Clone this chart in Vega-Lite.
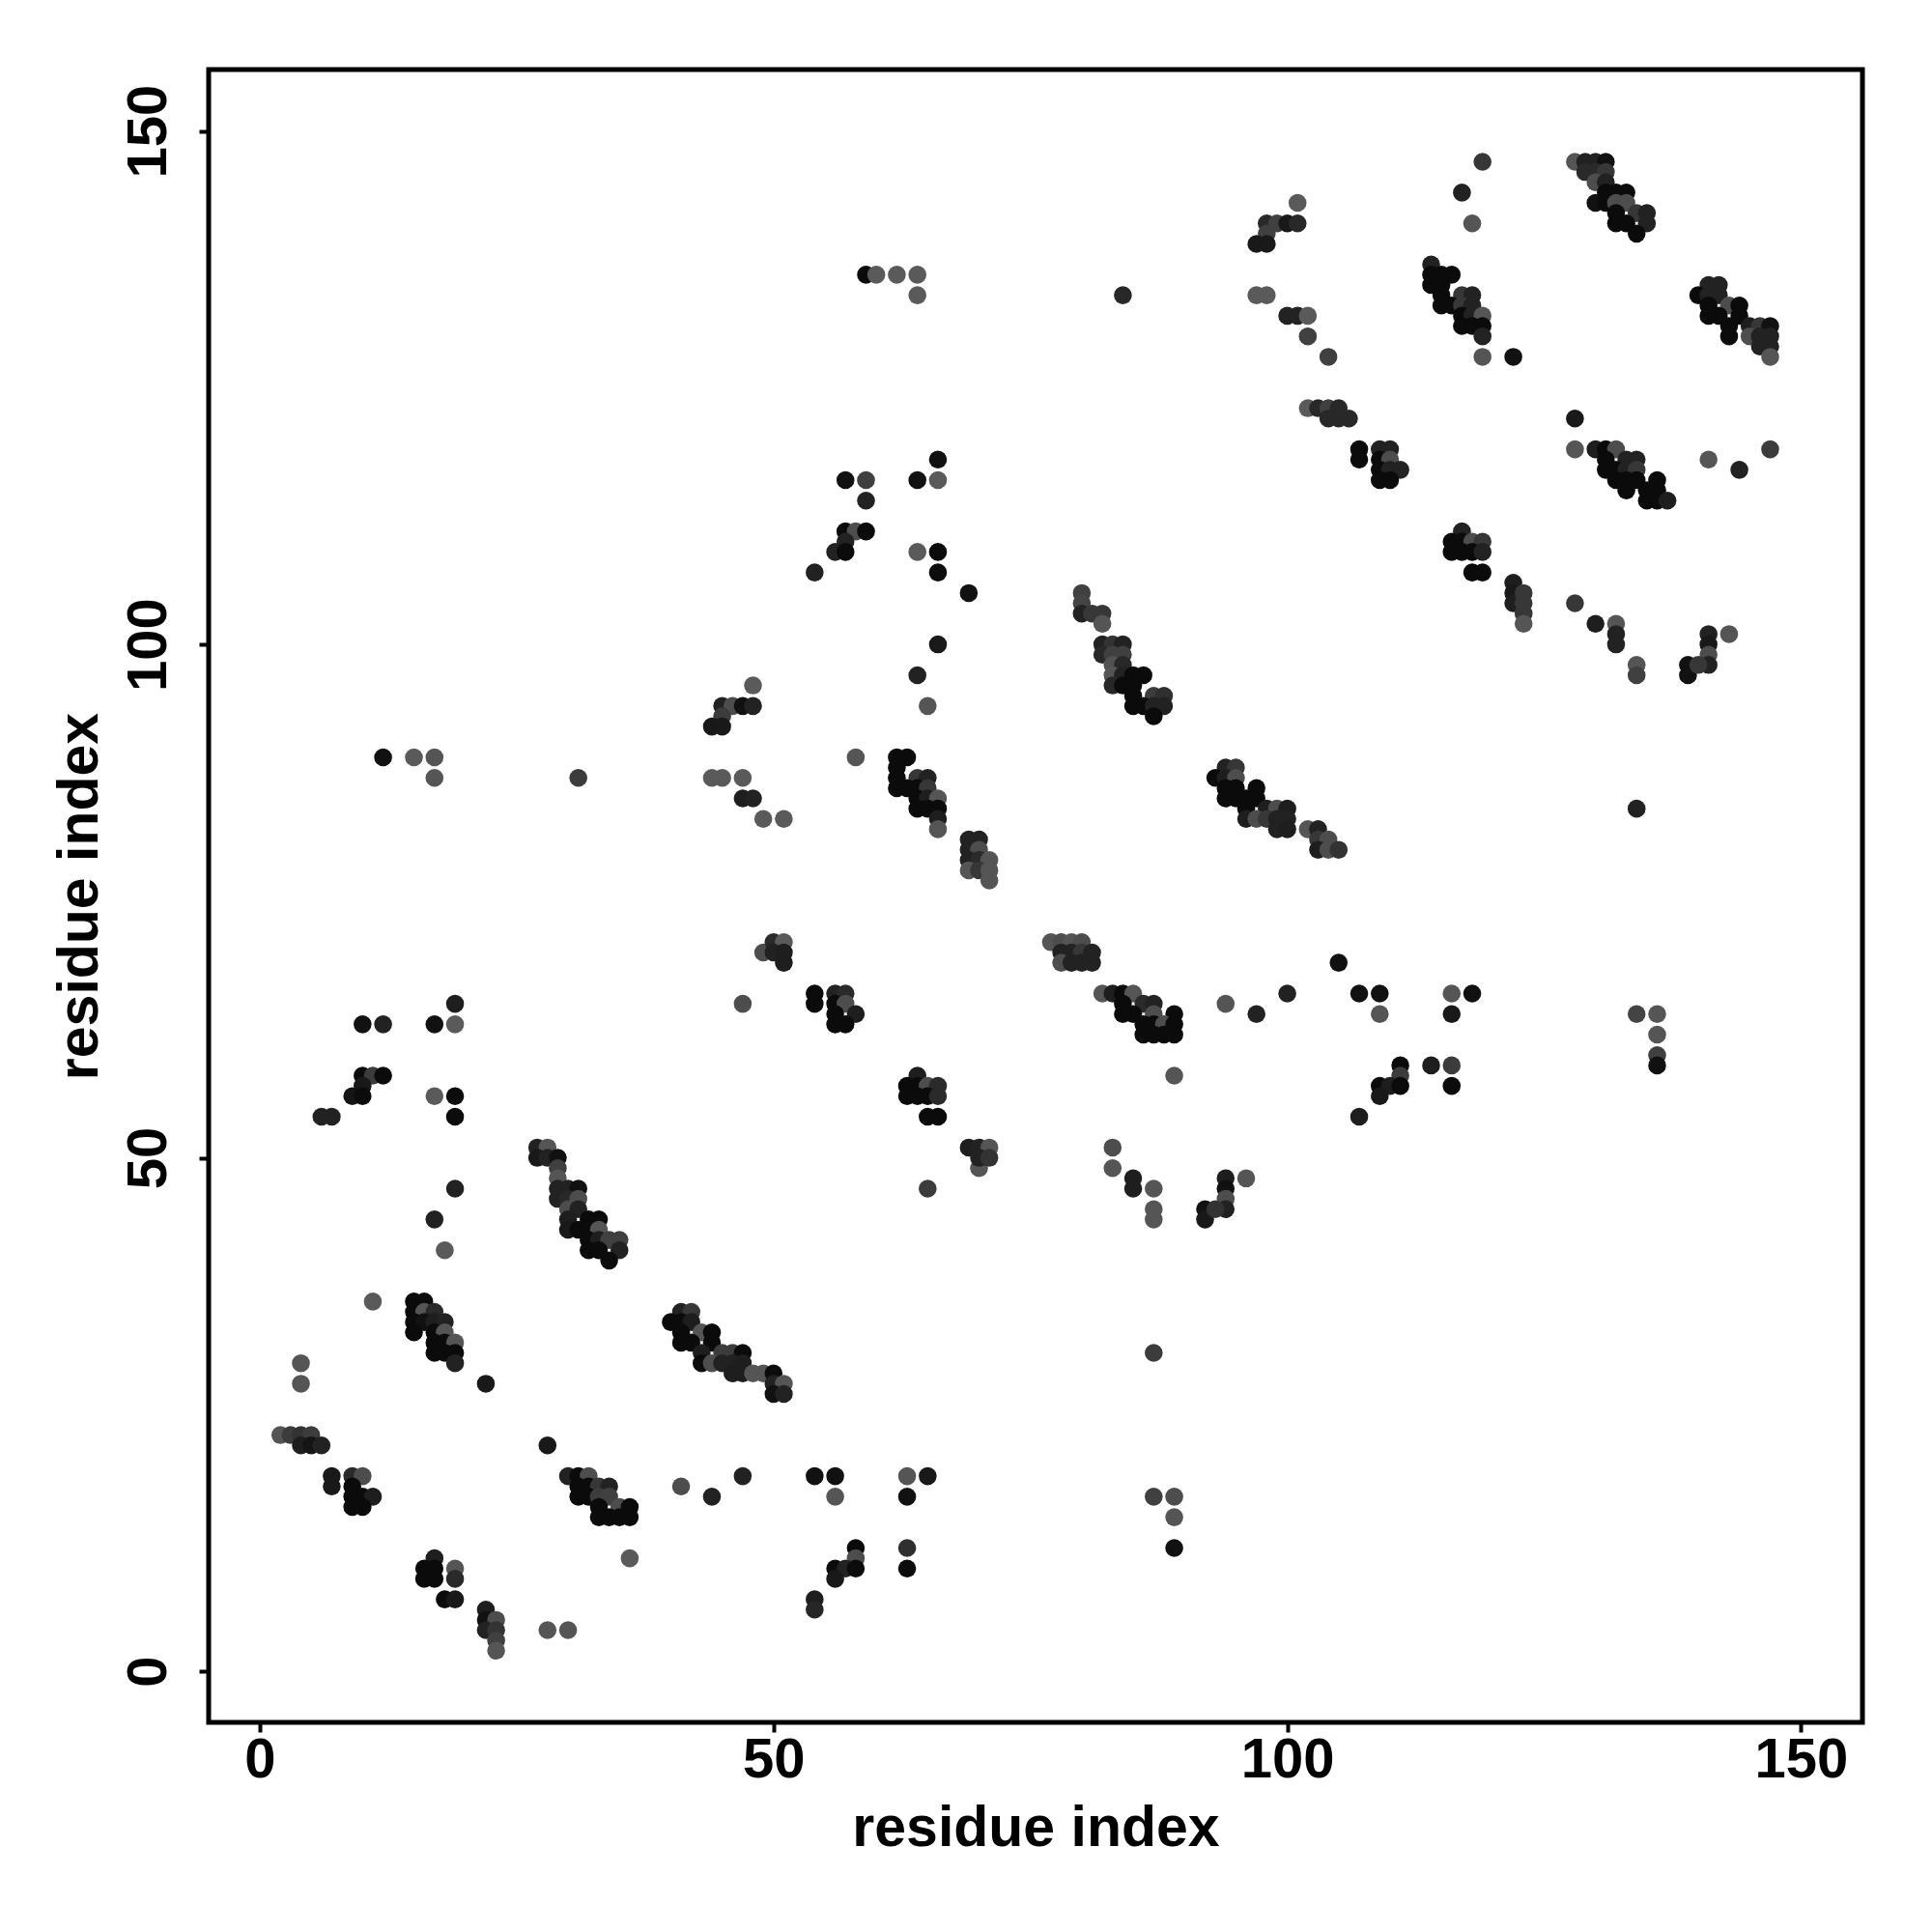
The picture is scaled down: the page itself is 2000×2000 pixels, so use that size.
{
"$schema": "https://vega.github.io/schema/vega-lite/v6.json",
"width": 1712, "height": 1711,
"autosize": {"type": "none"},
"padding": {"left": 216, "top": 72, "right": 72, "bottom": 217},
"background": "white",
"config": {"view": {"stroke": "black", "strokeWidth": 5, "fill": "white"}},
"data": {"values": [
{"i":59,"j":136,"s":0.97},{"i":60,"j":136,"s":0.05},{"i":62,"j":136,"s":0.05},{"i":64,"j":136,"s":0.05},{"i":64,"j":134,"s":0.05},{"i":84,"j":134,"s":0.63},
{"i":101,"j":143,"s":0.05},{"i":98,"j":141,"s":0.63},{"i":99,"j":141,"s":0.35},{"i":100,"j":141,"s":0.8},{"i":101,"j":141,"s":0.63},{"i":98,"j":140,"s":0.35},{"i":97,"j":139,"s":0.8},{"i":98,"j":139,"s":0.8},{"i":97,"j":134,"s":0.05},{"i":98,"j":134,"s":0.05},{"i":100,"j":132,"s":0.7},{"i":101,"j":132,"s":0.7},{"i":102,"j":132,"s":0.05},{"i":102,"j":130,"s":0.35},{"i":104,"j":128,"s":0.35},{"i":102,"j":123,"s":0.05},{"i":103,"j":123,"s":0.63},{"i":104,"j":123,"s":0.35},{"i":105,"j":123,"s":0.63},{"i":104,"j":122,"s":0.63},{"i":105,"j":122,"s":0.63},{"i":106,"j":122,"s":0.63},
{"i":66,"j":118,"s":0.9},{"i":57,"j":116,"s":0.9},{"i":59,"j":116,"s":0.35},{"i":64,"j":116,"s":0.9},{"i":66,"j":116,"s":0.05},{"i":59,"j":114,"s":0.7},{"i":57,"j":111,"s":0.97},{"i":58,"j":111,"s":0.2},{"i":59,"j":111,"s":0.97},{"i":57,"j":110,"s":0.7},{"i":56,"j":109,"s":0.7},{"i":57,"j":109,"s":0.97},{"i":54,"j":107,"s":0.7},{"i":64,"j":109,"s":0.05},{"i":66,"j":109,"s":0.97},{"i":66,"j":107,"s":0.95},{"i":69,"j":105,"s":0.9},
{"i":80,"j":105,"s":0.35},{"i":80,"j":104,"s":0.3},{"i":80,"j":103,"s":0.7},{"i":81,"j":103,"s":0.45},{"i":82,"j":103,"s":0.45},{"i":82,"j":102,"s":0.1},{"i":82,"j":100,"s":0.7},{"i":83,"j":100,"s":0.5},{"i":84,"j":100,"s":0.7},{"i":82,"j":99,"s":0.63},{"i":83,"j":99,"s":0.35},{"i":84,"j":99,"s":0.35},{"i":83,"j":98,"s":0.15},{"i":84,"j":98,"s":0.63},{"i":83,"j":97,"s":0.1},{"i":84,"j":97,"s":0.7},{"i":85,"j":97,"s":0.97},{"i":86,"j":97,"s":0.97},{"i":83,"j":96,"s":0.63},{"i":84,"j":96,"s":0.97},{"i":85,"j":96,"s":0.97},{"i":85,"j":95,"s":0.97},{"i":87,"j":95,"s":0.4},{"i":88,"j":95,"s":0.55},{"i":85,"j":94,"s":0.97},{"i":86,"j":94,"s":0.97},{"i":87,"j":94,"s":0.7},{"i":88,"j":94,"s":0.7},{"i":87,"j":93,"s":0.97},
{"i":12,"j":89,"s":0.9},{"i":15,"j":89,"s":0.05},{"i":17,"j":89,"s":0.1},{"i":17,"j":87,"s":0.1},{"i":31,"j":87,"s":0.4},{"i":48,"j":96,"s":0.05},{"i":45,"j":94,"s":0.7},{"i":46,"j":94,"s":0.2},{"i":47,"j":94,"s":0.9},{"i":48,"j":94,"s":0.7},{"i":45,"j":93,"s":0.4},{"i":44,"j":92,"s":0.8},{"i":45,"j":92,"s":0.8},{"i":44,"j":87,"s":0.05},{"i":45,"j":87,"s":0.05},{"i":47,"j":87,"s":0.05},{"i":47,"j":85,"s":0.75},{"i":48,"j":85,"s":0.7},{"i":49,"j":83,"s":0.05},{"i":51,"j":83,"s":0.05},
{"i":49,"j":70,"s":0.2},{"i":50,"j":71,"s":0.6},{"i":51,"j":71,"s":0.05},{"i":50,"j":70,"s":0.7},{"i":51,"j":70,"s":0.75},{"i":51,"j":69,"s":0.75},{"i":47,"j":65,"s":0.2},
{"i":19,"j":65,"s":0.75},{"i":10,"j":63,"s":0.9},{"i":12,"j":63,"s":0.7},{"i":17,"j":63,"s":0.9},{"i":19,"j":63,"s":0.05},{"i":10,"j":58,"s":0.97},{"i":11,"j":58,"s":0.4},{"i":12,"j":58,"s":0.97},{"i":10,"j":57,"s":0.8},{"i":9,"j":56,"s":0.85},{"i":10,"j":56,"s":0.95},{"i":6,"j":54,"s":0.7},{"i":7,"j":54,"s":0.7},{"i":17,"j":56,"s":0.05},{"i":19,"j":56,"s":0.95},{"i":19,"j":54,"s":0.95},{"i":19,"j":47,"s":0.7},
{"i":27,"j":51,"s":0.7},{"i":28,"j":51,"s":0.1},{"i":27,"j":50,"s":0.8},{"i":28,"j":50,"s":0.7},{"i":29,"j":50,"s":0.9},{"i":29,"j":49,"s":0.35},{"i":29,"j":48,"s":0.1},{"i":29,"j":47,"s":0.7},{"i":30,"j":47,"s":0.7},{"i":31,"j":47,"s":0.9},{"i":29,"j":46,"s":0.7},{"i":30,"j":46,"s":0.63},{"i":31,"j":46,"s":0.2},{"i":30,"j":45,"s":0.2},{"i":31,"j":45,"s":0.7},{"i":30,"j":44,"s":0.75},{"i":32,"j":44,"s":0.97},{"i":33,"j":44,"s":0.97},{"i":30,"j":43,"s":0.8},{"i":31,"j":43,"s":0.97},{"i":32,"j":43,"s":0.97},{"i":33,"j":43,"s":0.1},{"i":32,"j":42,"s":0.97},{"i":33,"j":42,"s":0.75},{"i":34,"j":42,"s":0.35},{"i":35,"j":42,"s":0.35},{"i":32,"j":41,"s":0.97},{"i":33,"j":41,"s":0.97},{"i":35,"j":41,"s":0.7},{"i":34,"j":40,"s":0.95},
{"i":17,"j":44,"s":0.7},{"i":18,"j":41,"s":0.05},{"i":11,"j":36,"s":0.05},
{"i":15,"j":36,"s":0.97},{"i":16,"j":36,"s":0.97},{"i":15,"j":35,"s":0.97},{"i":16,"j":35,"s":0.1},{"i":17,"j":35,"s":0.6},{"i":15,"j":34,"s":0.97},{"i":16,"j":34,"s":0.9},{"i":17,"j":34,"s":0.75},{"i":18,"j":34,"s":0.7},{"i":15,"j":33,"s":0.97},{"i":17,"j":33,"s":0.97},{"i":18,"j":33,"s":0.1},{"i":17,"j":32,"s":0.97},{"i":18,"j":32,"s":0.97},{"i":19,"j":32,"s":0.1},{"i":17,"j":31,"s":0.97},{"i":18,"j":31,"s":0.97},{"i":19,"j":31,"s":0.97},{"i":19,"j":30,"s":0.7},
{"i":22,"j":28,"s":0.8},{"i":4,"j":30,"s":0.1},{"i":4,"j":28,"s":0.1},
{"i":2,"j":23,"s":0.1},{"i":3,"j":23,"s":0.4},{"i":4,"j":23,"s":0.5},{"i":5,"j":23,"s":0.4},{"i":4,"j":22,"s":0.75},{"i":5,"j":22,"s":0.85},{"i":6,"j":22,"s":0.7},
{"i":7,"j":19,"s":0.8},{"i":7,"j":18,"s":0.8},{"i":9,"j":19,"s":0.6},{"i":10,"j":19,"s":0.2},{"i":9,"j":18,"s":0.97},{"i":9,"j":17,"s":0.97},{"i":10,"j":17,"s":0.97},{"i":11,"j":17,"s":0.75},{"i":9,"j":16,"s":0.97},{"i":10,"j":16,"s":0.97},
{"i":28,"j":22,"s":0.8},
{"i":30,"j":19,"s":0.7},{"i":31,"j":19,"s":0.97},{"i":32,"j":19,"s":0.2},{"i":31,"j":18,"s":0.97},{"i":32,"j":18,"s":0.97},{"i":33,"j":18,"s":0.45},{"i":34,"j":18,"s":0.7},{"i":31,"j":17,"s":0.97},{"i":32,"j":17,"s":0.97},{"i":33,"j":17,"s":0.4},{"i":34,"j":17,"s":0.35},{"i":33,"j":16,"s":0.97},{"i":35,"j":16,"s":0.2},{"i":36,"j":16,"s":0.97},{"i":33,"j":15,"s":0.97},{"i":34,"j":15,"s":0.97},{"i":35,"j":15,"s":0.97},{"i":36,"j":15,"s":0.97},
{"i":36,"j":11,"s":0.05},{"i":41,"j":18,"s":0.2},{"i":44,"j":17,"s":0.7},{"i":47,"j":19,"s":0.7},
{"i":17,"j":11,"s":0.75},{"i":16,"j":10,"s":0.97},{"i":17,"j":10,"s":0.97},{"i":19,"j":10,"s":0.1},{"i":16,"j":9,"s":0.97},{"i":17,"j":9,"s":0.97},{"i":19,"j":9,"s":0.6},{"i":18,"j":7,"s":0.97},{"i":19,"j":7,"s":0.8},
{"i":22,"j":6,"s":0.75},{"i":22,"j":5,"s":0.9},{"i":23,"j":5,"s":0.2},{"i":22,"j":4,"s":0.7},{"i":23,"j":4,"s":0.5},{"i":23,"j":3,"s":0.35},{"i":23,"j":2,"s":0.1},
{"i":28,"j":4,"s":0.1},{"i":30,"j":4,"s":0.1},
{"i":41,"j":35,"s":0.7},{"i":42,"j":35,"s":0.45},{"i":40,"j":34,"s":0.97},{"i":41,"j":34,"s":0.97},{"i":42,"j":34,"s":0.75},{"i":41,"j":33,"s":0.97},{"i":43,"j":33,"s":0.1},{"i":44,"j":33,"s":0.97},{"i":41,"j":32,"s":0.97},{"i":42,"j":32,"s":0.97},{"i":44,"j":32,"s":0.97},{"i":43,"j":31,"s":0.75},{"i":45,"j":31,"s":0.4},{"i":46,"j":31,"s":0.4},{"i":47,"j":31,"s":0.97},{"i":43,"j":30,"s":0.97},{"i":44,"j":30,"s":0.2},{"i":45,"j":30,"s":0.7},{"i":46,"j":30,"s":0.7},{"i":47,"j":30,"s":0.75},{"i":46,"j":29,"s":0.75},{"i":47,"j":29,"s":0.75},{"i":48,"j":29,"s":0.1},{"i":49,"j":29,"s":0.1},{"i":50,"j":29,"s":0.97},{"i":50,"j":28,"s":0.7},{"i":51,"j":28,"s":0.1},{"i":50,"j":27,"s":0.9},{"i":51,"j":27,"s":0.7},
{"i":65,"j":47,"s":0.4},{"i":70,"j":49,"s":0.1},{"i":83,"j":49,"s":0.1},{"i":85,"j":48,"s":0.75},{"i":85,"j":47,"s":0.75},{"i":87,"j":47,"s":0.1},{"i":87,"j":45,"s":0.1},{"i":87,"j":44,"s":0.1},{"i":94,"j":48,"s":0.75},{"i":94,"j":47,"s":0.9},{"i":94,"j":46,"s":0.2},{"i":94,"j":45,"s":0.7},{"i":96,"j":48,"s":0.1},{"i":92,"j":45,"s":0.9},{"i":92,"j":44,"s":0.8},{"i":93,"j":45,"s":0.5},{"i":87,"j":31,"s":0.4},
{"i":54,"j":19,"s":0.9},{"i":56,"j":19,"s":0.9},{"i":63,"j":19,"s":0.1},{"i":65,"j":19,"s":0.8},{"i":56,"j":17,"s":0.1},{"i":63,"j":17,"s":0.9},{"i":87,"j":17,"s":0.35},{"i":89,"j":17,"s":0.2},{"i":89,"j":15,"s":0.1},{"i":89,"j":12,"s":0.9},{"i":58,"j":12,"s":0.97},{"i":63,"j":12,"s":0.55},{"i":58,"j":11,"s":0.2},{"i":56,"j":10,"s":0.97},{"i":57,"j":10,"s":0.7},{"i":58,"j":10,"s":0.95},{"i":63,"j":10,"s":0.95},{"i":56,"j":9,"s":0.8},{"i":54,"j":7,"s":0.75},{"i":54,"j":6,"s":0.65},
{"i":66,"j":100,"s":0.8},{"i":64,"j":97,"s":0.7},{"i":65,"j":94,"s":0.1},{"i":58,"j":89,"s":0.1},
{"i":62,"j":89,"s":0.97},{"i":63,"j":89,"s":0.97},{"i":62,"j":88,"s":0.97},{"i":62,"j":87,"s":0.97},{"i":64,"j":87,"s":0.45},{"i":65,"j":87,"s":0.7},{"i":62,"j":86,"s":0.97},{"i":63,"j":86,"s":0.97},{"i":64,"j":86,"s":0.97},{"i":65,"j":86,"s":0.45},{"i":64,"j":85,"s":0.97},{"i":65,"j":85,"s":0.75},{"i":66,"j":85,"s":0.1},{"i":64,"j":84,"s":0.97},{"i":65,"j":84,"s":0.97},{"i":66,"j":84,"s":0.97},{"i":66,"j":83,"s":0.75},{"i":66,"j":82,"s":0.1},
{"i":69,"j":81,"s":0.7},{"i":70,"j":81,"s":0.7},{"i":69,"j":80,"s":0.7},{"i":70,"j":80,"s":0.2},{"i":69,"j":79,"s":0.7},{"i":70,"j":79,"s":0.6},{"i":71,"j":79,"s":0.1},{"i":69,"j":78,"s":0.1},{"i":70,"j":78,"s":0.45},{"i":71,"j":78,"s":0.1},{"i":71,"j":77,"s":0.1},
{"i":94,"j":88,"s":0.7},{"i":95,"j":88,"s":0.45},{"i":93,"j":87,"s":0.97},{"i":94,"j":87,"s":0.75},{"i":95,"j":87,"s":0.2},{"i":94,"j":86,"s":0.97},{"i":95,"j":86,"s":0.97},{"i":97,"j":86,"s":0.97},{"i":94,"j":85,"s":0.97},{"i":95,"j":85,"s":0.97},{"i":96,"j":85,"s":0.97},{"i":97,"j":85,"s":0.97},{"i":96,"j":84,"s":0.97},{"i":98,"j":84,"s":0.75},{"i":99,"j":84,"s":0.2},{"i":100,"j":84,"s":0.75},{"i":96,"j":83,"s":0.75},{"i":97,"j":83,"s":0.2},{"i":98,"j":83,"s":0.45},{"i":99,"j":83,"s":0.7},{"i":100,"j":83,"s":0.7},{"i":99,"j":82,"s":0.7},{"i":100,"j":82,"s":0.75},{"i":102,"j":82,"s":0.1},{"i":103,"j":82,"s":0.7},{"i":103,"j":81,"s":0.45},{"i":104,"j":81,"s":0.2},{"i":103,"j":80,"s":0.75},{"i":104,"j":80,"s":0.2},{"i":105,"j":80,"s":0.5},
{"i":77,"j":71,"s":0.1},{"i":78,"j":71,"s":0.2},{"i":79,"j":71,"s":0.1},{"i":80,"j":71,"s":0.2},{"i":78,"j":70,"s":0.7},{"i":79,"j":70,"s":0.7},{"i":80,"j":70,"s":0.45},{"i":81,"j":70,"s":0.7},{"i":78,"j":69,"s":0.2},{"i":79,"j":69,"s":0.7},{"i":80,"j":69,"s":0.7},{"i":81,"j":69,"s":0.7},
{"i":82,"j":66,"s":0.1},{"i":83,"j":66,"s":0.75},{"i":84,"j":66,"s":0.97},{"i":85,"j":66,"s":0.1},{"i":84,"j":65,"s":0.97},{"i":86,"j":65,"s":0.6},{"i":87,"j":65,"s":0.7},{"i":84,"j":64,"s":0.97},{"i":85,"j":64,"s":0.97},{"i":87,"j":64,"s":0.2},{"i":89,"j":64,"s":0.97},{"i":86,"j":63,"s":0.97},{"i":87,"j":63,"s":0.97},{"i":88,"j":63,"s":0.2},{"i":89,"j":63,"s":0.97},{"i":86,"j":62,"s":0.97},{"i":87,"j":62,"s":0.97},{"i":88,"j":62,"s":0.97},{"i":89,"j":62,"s":0.97},
{"i":89,"j":58,"s":0.1},{"i":94,"j":65,"s":0.1},{"i":97,"j":64,"s":0.7},{"i":100,"j":66,"s":0.7},{"i":105,"j":69,"s":0.9},
{"i":54,"j":66,"s":0.97},{"i":56,"j":66,"s":0.7},{"i":57,"j":66,"s":0.6},{"i":54,"j":65,"s":0.97},{"i":56,"j":65,"s":0.97},{"i":57,"j":65,"s":0.2},{"i":56,"j":64,"s":0.97},{"i":58,"j":64,"s":0.75},{"i":56,"j":63,"s":0.97},{"i":57,"j":63,"s":0.97},
{"i":64,"j":58,"s":0.75},{"i":63,"j":57,"s":0.97},{"i":64,"j":57,"s":0.97},{"i":65,"j":57,"s":0.2},{"i":66,"j":57,"s":0.6},{"i":63,"j":56,"s":0.97},{"i":64,"j":56,"s":0.97},{"i":65,"j":56,"s":0.97},{"i":66,"j":56,"s":0.6},{"i":65,"j":54,"s":0.97},{"i":66,"j":54,"s":0.97},
{"i":69,"j":51,"s":0.75},{"i":70,"j":51,"s":0.7},{"i":71,"j":51,"s":0.1},{"i":70,"j":50,"s":0.7},{"i":71,"j":50,"s":0.5},
{"i":83,"j":51,"s":0.2},
{"i":119,"j":147,"s":0.45},{"i":117,"j":144,"s":0.7},{"i":118,"j":141,"s":0.1},
{"i":107,"j":119,"s":0.97},{"i":109,"j":119,"s":0.7},{"i":110,"j":119,"s":0.7},{"i":107,"j":118,"s":0.97},{"i":109,"j":118,"s":0.97},{"i":110,"j":118,"s":0.2},{"i":109,"j":117,"s":0.97},{"i":110,"j":117,"s":0.7},{"i":111,"j":117,"s":0.7},{"i":109,"j":116,"s":0.97},{"i":110,"j":116,"s":0.97},
{"i":128,"j":147,"s":0.1},{"i":129,"j":147,"s":0.7},{"i":130,"j":147,"s":0.7},{"i":131,"j":147,"s":0.9},{"i":129,"j":146,"s":0.6},{"i":130,"j":146,"s":0.6},{"i":131,"j":146,"s":0.45},{"i":130,"j":145,"s":0.2},{"i":131,"j":145,"s":0.7},{"i":131,"j":144,"s":0.97},{"i":132,"j":144,"s":0.97},{"i":133,"j":144,"s":0.97},{"i":130,"j":143,"s":0.9},{"i":131,"j":143,"s":0.97},{"i":132,"j":143,"s":0.2},{"i":133,"j":143,"s":0.2},{"i":132,"j":142,"s":0.97},{"i":134,"j":142,"s":0.45},{"i":135,"j":142,"s":0.7},{"i":132,"j":141,"s":0.97},{"i":133,"j":141,"s":0.97},{"i":135,"j":141,"s":0.7},{"i":134,"j":140,"s":0.97},
{"i":114,"j":137,"s":0.7},{"i":114,"j":136,"s":0.97},{"i":115,"j":136,"s":0.97},{"i":116,"j":136,"s":0.97},{"i":114,"j":135,"s":0.97},{"i":115,"j":135,"s":0.97},{"i":115,"j":134,"s":0.97},{"i":117,"j":134,"s":0.45},{"i":118,"j":134,"s":0.7},{"i":115,"j":133,"s":0.97},{"i":116,"j":133,"s":0.97},{"i":117,"j":133,"s":0.45},{"i":118,"j":133,"s":0.7},{"i":117,"j":132,"s":0.97},{"i":118,"j":132,"s":0.7},{"i":119,"j":132,"s":0.1},{"i":117,"j":131,"s":0.97},{"i":118,"j":131,"s":0.97},{"i":119,"j":131,"s":0.97},{"i":119,"j":130,"s":0.7},{"i":119,"j":128,"s":0.1},{"i":122,"j":128,"s":0.9},
{"i":141,"j":135,"s":0.7},{"i":142,"j":135,"s":0.7},{"i":140,"j":134,"s":0.97},{"i":141,"j":134,"s":0.7},{"i":142,"j":134,"s":0.7},{"i":141,"j":133,"s":0.97},{"i":143,"j":133,"s":0.2},{"i":144,"j":133,"s":0.97},{"i":141,"j":132,"s":0.97},{"i":142,"j":132,"s":0.97},{"i":144,"j":132,"s":0.97},{"i":143,"j":131,"s":0.97},{"i":145,"j":131,"s":0.75},{"i":146,"j":131,"s":0.45},{"i":147,"j":131,"s":0.9},{"i":143,"j":130,"s":0.97},{"i":145,"j":130,"s":0.2},{"i":146,"j":130,"s":0.7},{"i":147,"j":130,"s":0.7},{"i":146,"j":129,"s":0.7},{"i":147,"j":129,"s":0.7},{"i":147,"j":128,"s":0.1},
{"i":128,"j":122,"s":0.8},{"i":128,"j":119,"s":0.1},{"i":130,"j":119,"s":0.75},{"i":131,"j":119,"s":0.97},{"i":132,"j":119,"s":0.2},{"i":131,"j":118,"s":0.97},{"i":133,"j":118,"s":0.7},{"i":134,"j":118,"s":0.7},{"i":131,"j":117,"s":0.97},{"i":132,"j":117,"s":0.97},{"i":133,"j":117,"s":0.7},{"i":134,"j":117,"s":0.45},{"i":132,"j":116,"s":0.97},{"i":133,"j":116,"s":0.97},{"i":134,"j":116,"s":0.97},{"i":136,"j":116,"s":0.97},{"i":133,"j":115,"s":0.97},{"i":135,"j":115,"s":0.97},{"i":136,"j":115,"s":0.97},{"i":135,"j":114,"s":0.97},{"i":136,"j":114,"s":0.97},{"i":137,"j":114,"s":0.75},
{"i":141,"j":118,"s":0.1},{"i":144,"j":117,"s":0.7},{"i":147,"j":119,"s":0.4},
{"i":117,"j":111,"s":0.7},{"i":116,"j":110,"s":0.97},{"i":117,"j":110,"s":0.97},{"i":118,"j":110,"s":0.2},{"i":119,"j":110,"s":0.45},{"i":116,"j":109,"s":0.97},{"i":117,"j":109,"s":0.97},{"i":118,"j":109,"s":0.97},{"i":119,"j":109,"s":0.7},{"i":118,"j":107,"s":0.97},{"i":119,"j":107,"s":0.97},
{"i":122,"j":106,"s":0.75},{"i":122,"j":105,"s":0.8},{"i":122,"j":104,"s":0.75},{"i":123,"j":105,"s":0.45},{"i":123,"j":104,"s":0.45},{"i":123,"j":103,"s":0.45},{"i":123,"j":102,"s":0.1},
{"i":128,"j":104,"s":0.45},{"i":130,"j":102,"s":0.75},{"i":132,"j":102,"s":0.1},{"i":132,"j":101,"s":0.7},{"i":132,"j":100,"s":0.7},{"i":141,"j":101,"s":0.7},{"i":143,"j":101,"s":0.1},
{"i":134,"j":98,"s":0.1},{"i":134,"j":97,"s":0.35},{"i":141,"j":100,"s":0.8},{"i":141,"j":99,"s":0.2},{"i":141,"j":98,"s":0.7},{"i":139,"j":98,"s":0.9},{"i":139,"j":97,"s":0.9},{"i":140,"j":98,"s":0.45},
{"i":134,"j":84,"s":0.7},{"i":107,"j":66,"s":0.9},{"i":109,"j":66,"s":0.9},{"i":116,"j":66,"s":0.1},{"i":118,"j":66,"s":0.9},{"i":109,"j":64,"s":0.1},{"i":116,"j":64,"s":0.8},{"i":134,"j":64,"s":0.3},{"i":136,"j":64,"s":0.1},{"i":136,"j":62,"s":0.1},{"i":136,"j":60,"s":0.35},{"i":136,"j":59,"s":0.9},
{"i":111,"j":59,"s":0.97},{"i":114,"j":59,"s":0.75},{"i":116,"j":59,"s":0.4},{"i":111,"j":58,"s":0.4},{"i":109,"j":57,"s":0.97},{"i":110,"j":57,"s":0.75},{"i":111,"j":57,"s":0.97},{"i":116,"j":57,"s":0.95},{"i":109,"j":56,"s":0.8},{"i":107,"j":54,"s":0.75}
]},
"mark": {"type": "circle", "size": 345, "opacity": 1, "stroke": null},
"encoding": {
"x": {"field": "i", "type": "quantitative",
 "scale": {"domain": [-4.98, 155.98], "nice": false, "zero": false},
 "axis": {"title": "residue index", "values": [0, 50, 100, 150], "grid": false, "domain": false,
  "ticks": true, "tickSize": 10, "tickWidth": 4, "tickColor": "black",
  "labelFont": "Liberation Sans", "labelFontSize": 58, "labelFontWeight": "bold", "labelColor": "black",
  "labelBaseline": "alphabetic", "labelAlign": "center", "labelPadding": 46, "labelFlush": false, "labelOverlap": false, "labelBound": false,
  "titleFont": "Liberation Sans", "titleFontSize": 59, "titleFontWeight": "bold", "titleColor": "black",
  "titleX": 856, "titleY": 127, "titleAlign": "center", "titleBaseline": "alphabetic", "titleAngle": 0}},
"y": {"field": "j", "type": "quantitative",
 "scale": {"domain": [-4.98, 155.98], "nice": false, "zero": false},
 "axis": {"title": "residue index", "values": [0, 50, 100, 150], "grid": false, "domain": false,
  "ticks": true, "tickSize": 10, "tickWidth": 4, "tickColor": "black",
  "labelFont": "Liberation Sans", "labelFontSize": 58, "labelFontWeight": "bold", "labelColor": "black",
  "labelAngle": 270, "labelBaseline": "alphabetic", "labelAlign": "center", "labelPadding": 35, "labelFlush": false, "labelOverlap": false, "labelBound": false,
  "titleFont": "Liberation Sans", "titleFontSize": 59, "titleFontWeight": "bold", "titleColor": "black",
  "titleX": -116, "titleY": 855.5, "titleAlign": "center", "titleBaseline": "alphabetic", "titleAngle": 270}},
"color": {"field": "s", "type": "quantitative", "scale": {"domain": [0, 1], "range": ["#5e5e5e", "#080808"], "interpolate": "rgb"}, "legend": null}
}
}
